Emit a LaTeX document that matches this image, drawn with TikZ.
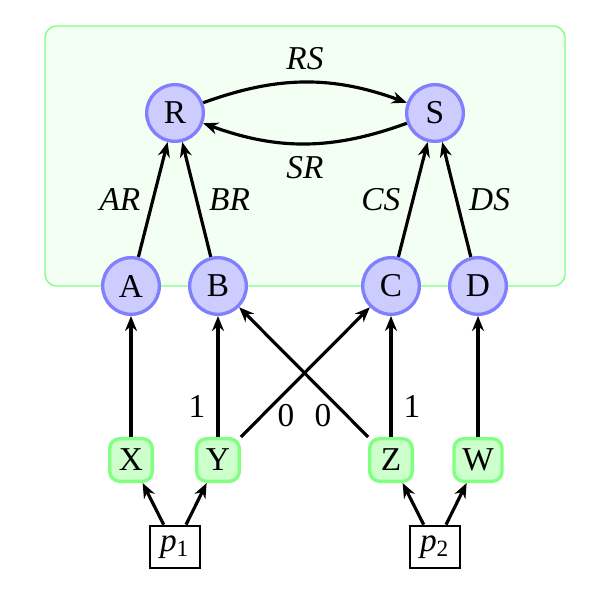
\documentclass[tikz,border=0pt]{standalone}
\usepackage{fontspec}
\setmainfont{Liberation Serif}
\usetikzlibrary{arrows.meta}
\begin{document}
\begin{tikzpicture}[x=0.3pt,y=0.3pt,
  circ/.style={circle,draw=blue!50,fill=blue!20,line width=1pt,minimum size=17pt,inner sep=0pt},
  sq/.style={rectangle,rounded corners=3pt,draw=green!50,fill=green!20,line width=1pt,minimum size=12.8pt,inner sep=2.5pt},
  pbox/.style={rectangle,draw=black,line width=0.6pt,minimum width=15pt,minimum height=12pt,inner sep=3pt},
  arr/.style={-{Stealth[length=4.5pt,width=3.6pt]},line width=0.95pt},
  lbl/.style={font=\itshape}
]
\useasboundingbox (0,0) rectangle (592,-597);
\draw[green!50,fill=green!5,rounded corners=3.5pt] (45,-26) rectangle (565,-286);

\node[circ] (R) at (175,-113) {R};
\node[circ] (S) at (435,-113) {S};
\node[circ] (A) at (131,-286) {A};
\node[circ] (B) at (218,-286) {B};
\node[circ] (C) at (391,-286) {C};
\node[circ] (D) at (478,-286) {D};
\node[sq] (X) at (131,-460) {X};
\node[sq] (Y) at (218,-460) {Y};
\node[sq] (Z) at (391,-460) {Z};
\node[sq] (W) at (478,-460) {W};
\node[pbox] (p1) at (175,-547) {{\itshape p}\textsubscript{1}};
\node[pbox] (p2) at (435,-547) {{\itshape p}\textsubscript{2}};

\draw[arr] (R) to[bend left=20] node[above,lbl]{RS} (S);
\draw[arr] (S) to[bend left=20] node[below,lbl]{SR} (R);
\draw[arr] (A) -- node[left,lbl]{AR} (R);
\draw[arr] (B) -- node[right,lbl]{BR} (R);
\draw[arr] (C) -- node[left,lbl]{CS} (S);
\draw[arr] (D) -- node[right,lbl]{DS} (S);

\draw[arr] (X) -- (A);
\draw[arr] (Y) -- node[pos=0.25,left]{1} (B);
\draw[arr] (Y) -- node[pos=0.35,below]{0} (C);
\draw[arr] (Z) -- node[pos=0.35,below]{0} (B);
\draw[arr] (Z) -- node[pos=0.25,right]{1} (C);
\draw[arr] (W) -- (D);

\draw[arr] (p1) -- (X);
\draw[arr] (p1) -- (Y);
\draw[arr] (p2) -- (Z);
\draw[arr] (p2) -- (W);
\end{tikzpicture}
\end{document}
